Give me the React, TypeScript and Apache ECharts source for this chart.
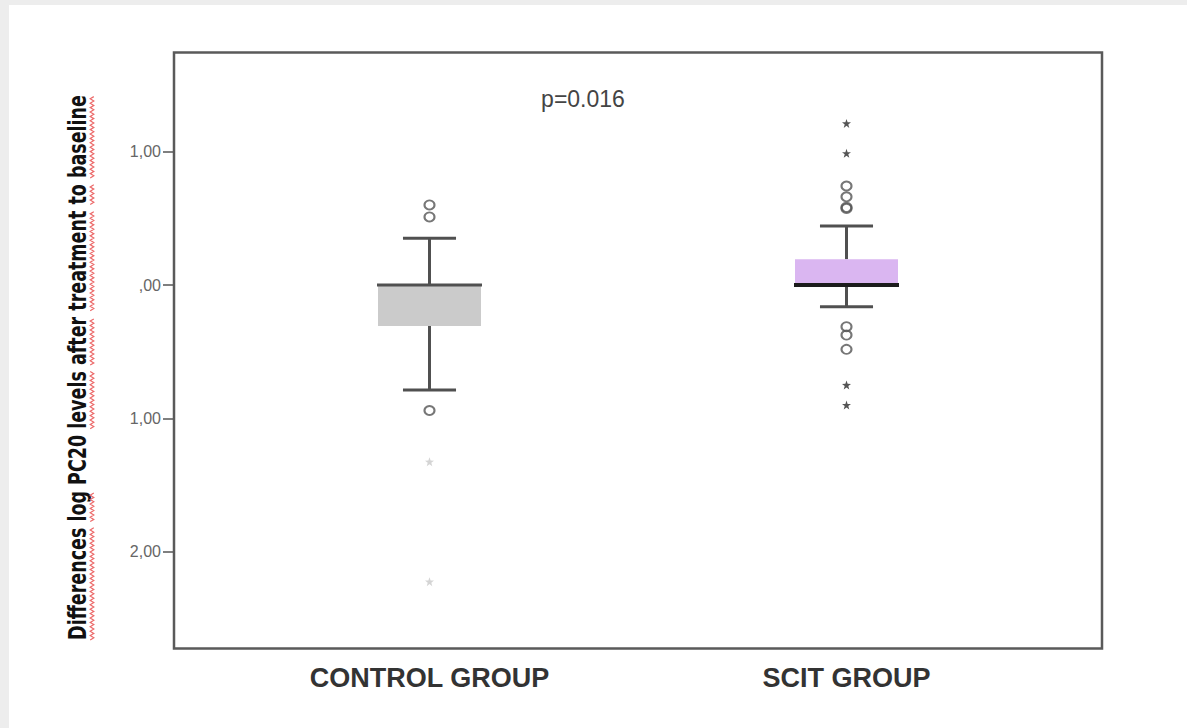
import React, { useEffect, useRef } from "react";
import * as echarts from "echarts";

// ---- data ----
const categories = ["CONTROL GROUP", "SCIT GROUP"];
// [lower whisker, Q1, median, Q3, upper whisker]
const controlBox = [-0.787, -0.307, 0, 0, 0.35];
const scitBox = [-0.163, 0, 0, 0.193, 0.442];
const controlOutliers = [0.6, 0.51, -0.94];
const controlExtremes = [-1.324, -2.222];
const scitOutliers = [0.742, 0.661, 0.582, 0.574, -0.312, -0.375, -0.482];
const scitExtremes = [1.211, 0.987, -0.749, -0.899];
const yTicks = [-2, -1, 0, 1];
const yTickLabels = ["2,00", "1,00", ",00", "1,00"];
const yMin = -2.723;
const yMax = 1.742;
const yTitle = "Differences log PC20 levels after treatment to baseline";
const yTitleFlagged = [true, true, false, true, true, true, true, true];
const pValueText = "p=0.016";

// ---- styles ----
const boxFills = ["#cbcbcb", "#dab6f1"];
const medianColors = ["#505050", "#1c1c1c"];
const medianWidths = [3, 4];
const whiskerColor = "#505050";
const starPath =
  "path://M0,-10 L2.35,-3.24 L9.51,-3.09 L3.8,1.24 L5.88,8.09 L0,4 L-5.88,8.09 L-3.8,1.24 L-9.51,-3.09 L-2.35,-3.24 Z";

const OX = 9;
const OY = 5;
const TITLE_FONT = 'bold 24px "Liberation Sans Narrow", "DejaVu Sans Condensed", "DejaVu Sans", sans-serif';
const TITLE_LENGTH = 545;

function measureTitle() {
  const canvas = document.createElement("canvas");
  const ctx = canvas.getContext("2d")!;
  ctx.font = TITLE_FONT;
  return ctx;
}

// red wavy underline under the flagged words of the rotated axis title
function squiggles(ctx: CanvasRenderingContext2D, scale: number, cy: number, x: number) {
  const total = ctx.measureText(yTitle).width * scale;
  const words = yTitle.split(" ");
  const out: any[] = [];
  let pos = 0;
  words.forEach((w, i) => {
    const start = ctx.measureText(yTitle.slice(0, pos)).width * scale;
    const end = ctx.measureText(yTitle.slice(0, pos + w.length)).width * scale;
    pos += w.length + 1;
    if (!yTitleFlagged[i]) return;
    const y0 = cy + total / 2 - start;
    const y1 = cy + total / 2 - end;
    const pts: number[][] = [];
    let k = 0;
    for (let y = y0; y >= y1; y -= 2.2, k++) {
      pts.push([x + (k % 2 === 0 ? -1.8 : 1.8), y]);
    }
    out.push({
      type: "polyline",
      shape: { points: pts },
      style: { stroke: "#ec6a6a", lineWidth: 1.2, fill: null },
      silent: true,
    });
  });
  return out;
}

export default function App() {
  const ref = useRef<HTMLDivElement>(null);

  useEffect(() => {
    if (!ref.current) return;
    const chart = echarts.init(ref.current, null, { renderer: "svg" });

    const gridLeft = 221 - OX;
    const gridTop = 52.5 - OY;
    const gridW = 834;
    const gridH = 596;

    const titleCx = 78 - OX;
    const titleCy = 367.5 - OY;
    const ctx = measureTitle();
    const titleScale = TITLE_LENGTH / ctx.measureText(yTitle).width;

    const option: any = {
      animation: false,
      backgroundColor: "#ffffff",
      grid: { left: gridLeft, top: gridTop, width: gridW, height: gridH, containLabel: false },
      xAxis: {
        type: "category",
        data: categories,
        boundaryGap: true,
        axisLine: { show: false },
        axisTick: { show: true, alignWithLabel: true, length: 9, lineStyle: { color: "#555", width: 1.5 } },
        axisLabel: {
          margin: 16,
          color: "#333",
          fontFamily: '"Liberation Sans", Arial, sans-serif',
          fontWeight: "bold",
          fontSize: 27,
        },
        splitLine: { show: false },
      },
      yAxis: {
        type: "value",
        min: yMin,
        max: yMax,
        offset: 47,
        axisLine: { show: false },
        axisTick: {
          show: true,
          length: 11,
          customValues: yTicks,
          lineStyle: { color: "#555", width: 1.5 },
        },
        axisLabel: {
          customValues: yTicks,
          margin: 13,
          color: "#666",
          fontFamily: '"Liberation Sans", Arial, sans-serif',
          fontSize: 16,
          formatter: (v: number) => {
            const i = yTicks.findIndex((t) => Math.abs(t - v) < 1e-6);
            return i >= 0 ? yTickLabels[i] : "";
          },
        },
        splitLine: { show: false },
      },
      graphic: [
        {
          type: "rect",
          shape: { x: 174 - OX, y: gridTop, width: 928, height: gridH },
          style: { fill: null, stroke: "#5a5a5a", lineWidth: 2.5 },
          silent: true,
          z: 1,
        },
        {
          type: "text",
          x: titleCx,
          y: titleCy,
          rotation: Math.PI / 2,
          scaleX: titleScale,
          style: {
            text: yTitle,
            font: TITLE_FONT,
            fill: "#111",
            align: "center",
            verticalAlign: "middle",
          },
          silent: true,
        },
        ...squiggles(ctx, titleScale, titleCy, 92 - OX),
        {
          type: "text",
          x: 583 - OX,
          y: 99 - OY,
          style: {
            text: pValueText,
            fill: "#444",
            font: '23px "Liberation Sans", Arial, sans-serif',
            align: "center",
            verticalAlign: "middle",
          },
          silent: true,
        },
      ],
      series: [
        {
          type: "custom",
          data: [
            [0, ...controlBox],
            [1, ...scitBox],
          ],
          encode: { x: 0, y: [1, 2, 3, 4, 5] },
          z: 3,
          renderItem: (params: any, api: any) => {
            const idx = api.value(0);
            const low = api.coord([idx, api.value(1)]);
            const q1 = api.coord([idx, api.value(2)]);
            const med = api.coord([idx, api.value(3)]);
            const q3 = api.coord([idx, api.value(4)]);
            const high = api.coord([idx, api.value(5)]);
            const band = api.size([1, 0])[0];
            const boxW = band * 0.247;
            const capW = boxW * 0.515;
            const cx = low[0];
            const wStyle = { stroke: whiskerColor, lineWidth: 3 };
            return {
              type: "group",
              children: [
                { type: "line", shape: { x1: cx, y1: low[1], x2: cx, y2: q1[1] }, style: wStyle },
                { type: "line", shape: { x1: cx, y1: q3[1], x2: cx, y2: high[1] }, style: wStyle },
                { type: "line", shape: { x1: cx - capW / 2, y1: low[1], x2: cx + capW / 2, y2: low[1] }, style: wStyle },
                { type: "line", shape: { x1: cx - capW / 2, y1: high[1], x2: cx + capW / 2, y2: high[1] }, style: wStyle },
                {
                  type: "rect",
                  shape: { x: cx - boxW / 2, y: q3[1], width: boxW, height: q1[1] - q3[1] },
                  style: { fill: boxFills[idx], stroke: null },
                },
                {
                  type: "line",
                  shape: { x1: cx - boxW / 2 - 1, y1: med[1], x2: cx + boxW / 2 + 1, y2: med[1] },
                  style: { stroke: medianColors[idx], lineWidth: medianWidths[idx] },
                },
              ],
            };
          },
        },
        {
          type: "scatter",
          z: 4,
          symbol: "circle",
          symbolSize: [10, 9],
          itemStyle: { color: "rgba(0,0,0,0)", borderColor: "#555", borderWidth: 2 },
          data: [
            ...controlOutliers.map((v) => [categories[0], v]),
            ...scitOutliers.map((v) => [categories[1], v]),
          ],
        },
        {
          type: "scatter",
          z: 4,
          symbol: starPath,
          symbolSize: 9,
          itemStyle: { color: "#c9c9c9" },
          data: controlExtremes.map((v) => [categories[0], v]),
        },
        {
          type: "scatter",
          z: 4,
          symbol: starPath,
          symbolSize: 9,
          itemStyle: { color: "#2a2a2a" },
          data: scitExtremes.map((v) => [categories[1], v]),
        },
      ],
    };

    chart.setOption(option);
    return () => chart.dispose();
  }, []);

  return (
    <div
      style={{
        position: "fixed",
        left: 0,
        top: 0,
        width: 1187,
        height: 728,
        background: "#ededed",
        overflow: "hidden",
      }}
    >
      <div
        ref={ref}
        style={{
          position: "absolute",
          left: OX,
          top: OY,
          width: 1187 - OX,
          height: 728 - OY,
          background: "#ffffff",
        }}
      />
    </div>
  );
}
